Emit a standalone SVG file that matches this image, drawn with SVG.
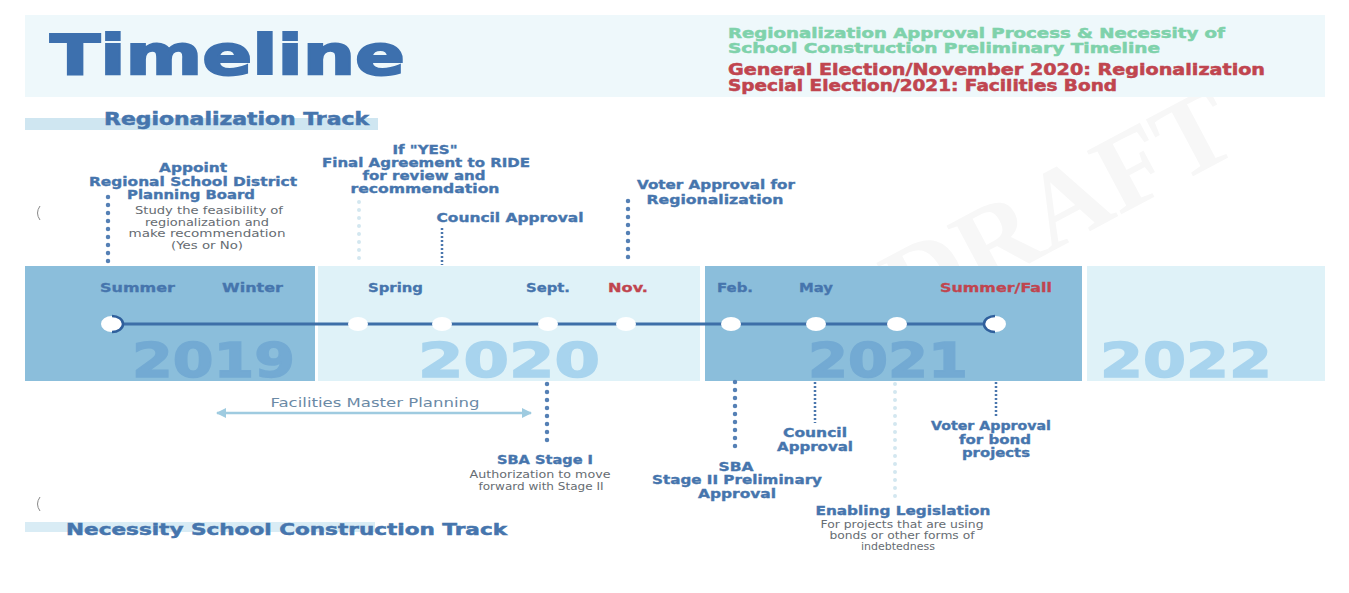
<svg xmlns="http://www.w3.org/2000/svg" width="1349" height="593" viewBox="0 0 1349 593">
<defs>
<style>
.h{font-family:"DejaVu Sans","Liberation Sans",sans-serif;font-weight:bold;fill:#4675ad;stroke:#4675ad;stroke-width:0.5}
.lbl{font-family:"DejaVu Sans","Liberation Sans",sans-serif;font-weight:bold;font-size:12.5px;fill:#4675ad;stroke:#4675ad;stroke-width:0.35;text-anchor:middle}
.sm{font-family:"DejaVu Sans","Liberation Sans",sans-serif;font-size:10px;fill:#666c72;text-anchor:middle}
.mo{font-family:"DejaVu Sans","Liberation Sans",sans-serif;font-weight:bold;font-size:12.5px;fill:#4675ad;stroke:#4675ad;stroke-width:0.3}
.red{fill:#c0454f;stroke:#c0454f}
.grn{fill:#7fd2ab;stroke:#7fd2ab}
.yr{font-family:"DejaVu Sans","Liberation Sans",sans-serif;font-weight:bold;font-size:48px;stroke-width:1.5}
.dk{fill:#8bbedb}
.lt{fill:#dff2f8}
.dot{fill:#ffffff}
.dots{stroke:#5580b5;stroke-width:4.5;stroke-linecap:round;stroke-dasharray:0 8;fill:none}
.dense{stroke:#4a76ad;stroke-width:2.5;stroke-dasharray:2 2;fill:none}
.faint{stroke:#d3e7f0;stroke-width:4;stroke-linecap:round;stroke-dasharray:0 8;fill:none}
</style>
<marker id="ah" viewBox="0 0 10 10" refX="9" refY="5" markerWidth="4" markerHeight="4" orient="auto-start-reverse">
<path d="M0,0 L10,5 L0,10 z" fill="#9fcbe0"/>
</marker>
</defs>
<rect width="1349" height="593" fill="#ffffff"/>
<text x="1050" y="245" transform="rotate(-28 1050 190)" font-family="Liberation Serif,serif" font-weight="bold" font-size="110" fill="#f7f7f7" text-anchor="middle">DRAFT</text>

<g id="header">
<rect x="25" y="15" width="1300" height="82" fill="#eef8fb"/>
<text class="h" x="50" y="74" font-size="56" textLength="355" lengthAdjust="spacingAndGlyphs" style="fill:#3d70ae;stroke:#3d70ae;stroke-width:2">Timeline</text>
<text class="h grn" x="728" y="38" font-size="13.5" textLength="497" lengthAdjust="spacingAndGlyphs">Regionalization Approval Process &amp; Necessity of</text>
<text class="h grn" x="728" y="53" font-size="13.5" textLength="432" lengthAdjust="spacingAndGlyphs">School Construction Preliminary Timeline</text>
<text class="h red" x="728" y="75" font-size="15" textLength="537" lengthAdjust="spacingAndGlyphs">General Election/November 2020: Regionalization</text>
<text class="h red" x="728" y="91" font-size="15" textLength="389" lengthAdjust="spacingAndGlyphs">Special Election/2021: Facilities Bond</text>
</g>

<g id="track-regionalization">
<rect x="25" y="118" width="353" height="12" fill="#cfe6f1"/>
<text class="h" x="104" y="125" font-size="17" textLength="265" lengthAdjust="spacingAndGlyphs">Regionalization Track</text>
</g>

<g id="timeline-band">
<rect class="dk" x="25" y="266" width="290" height="115"/>
<rect class="lt" x="318" y="266" width="382" height="115"/>
<rect class="dk" x="705" y="266" width="377" height="115"/>
<rect class="lt" x="1087" y="266" width="238" height="115"/>
<text class="yr" x="132" y="377" textLength="163" lengthAdjust="spacingAndGlyphs" fill="#73aad3" stroke="#73aad3">2019</text>
<text class="yr" x="418" y="377" textLength="182" lengthAdjust="spacingAndGlyphs" fill="#a8d4ee" stroke="#a8d4ee">2020</text>
<text class="yr" x="808" y="377" textLength="160" lengthAdjust="spacingAndGlyphs" fill="#73aad3" stroke="#73aad3">2021</text>
<text class="yr" x="1100" y="377" textLength="172" lengthAdjust="spacingAndGlyphs" fill="#a8d4ee" stroke="#a8d4ee">2022</text>
<text class="mo" x="100" y="292" textLength="75" lengthAdjust="spacingAndGlyphs">Summer</text>
<text class="mo" x="222" y="292" textLength="61" lengthAdjust="spacingAndGlyphs">Winter</text>
<text class="mo" x="368" y="292" textLength="55" lengthAdjust="spacingAndGlyphs">Spring</text>
<text class="mo" x="526" y="292" textLength="44" lengthAdjust="spacingAndGlyphs">Sept.</text>
<text class="mo red" x="608" y="292" textLength="40" lengthAdjust="spacingAndGlyphs">Nov.</text>
<text class="mo" x="717" y="292" textLength="36" lengthAdjust="spacingAndGlyphs">Feb.</text>
<text class="mo" x="799" y="292" textLength="34" lengthAdjust="spacingAndGlyphs">May</text>
<text class="mo red" x="940" y="292" textLength="112" lengthAdjust="spacingAndGlyphs">Summer/Fall</text>
<line x1="114" y1="324" x2="993" y2="324" stroke="#3d6fa8" stroke-width="3"/>
<ellipse class="dot" cx="112" cy="324" rx="11" ry="8"/>
<path d="M112,316 A11,8 0 0 1 112,332" fill="none" stroke="#2f5f9c" stroke-width="2.5"/>
<ellipse class="dot" cx="358" cy="324" rx="10" ry="7"/>
<ellipse class="dot" cx="442" cy="324" rx="10" ry="7"/>
<ellipse class="dot" cx="548" cy="324" rx="10" ry="7"/>
<ellipse class="dot" cx="626" cy="324" rx="10" ry="7"/>
<ellipse class="dot" cx="731" cy="324" rx="10" ry="7"/>
<ellipse class="dot" cx="816" cy="324" rx="10" ry="7"/>
<ellipse class="dot" cx="897" cy="324" rx="10" ry="7"/>
<ellipse class="dot" cx="995" cy="324" rx="11" ry="8"/>
<path d="M995,316 A11,8 0 0 0 995,332" fill="none" stroke="#2f5f9c" stroke-width="2.5"/>
</g>

<g id="connectors">
<line class="dots" x1="108" y1="197" x2="108" y2="262"/>
<line class="faint" x1="359" y1="202" x2="359" y2="264"/>
<line class="dense" x1="442" y1="228" x2="442" y2="265"/>
<line class="dots" x1="628" y1="201" x2="628" y2="265"/>
<line class="dots" x1="547" y1="384" x2="547" y2="448"/>
<line class="dots" x1="735" y1="382" x2="735" y2="448"/>
<line class="dense" x1="815" y1="382" x2="815" y2="423"/>
<line class="faint" x1="895" y1="384" x2="895" y2="498"/>
<line class="dense" x1="996" y1="382" x2="996" y2="418"/>
<line x1="217" y1="413" x2="531" y2="413" stroke="#9fcbe0" stroke-width="2.5" marker-start="url(#ah)" marker-end="url(#ah)"/>
</g>

<g id="n-appoint">
<text class="lbl" x="193" y="172" textLength="68" lengthAdjust="spacingAndGlyphs">Appoint</text>
<text class="lbl" x="193" y="185.5" textLength="208" lengthAdjust="spacingAndGlyphs">Regional School District</text>
<text class="lbl" x="191" y="199" textLength="128" lengthAdjust="spacingAndGlyphs">Planning Board</text>
<text class="sm" x="209" y="214" textLength="148" lengthAdjust="spacingAndGlyphs">Study the feasibility of</text>
<text class="sm" x="207" y="225.5" textLength="124" lengthAdjust="spacingAndGlyphs">regionalization and</text>
<text class="sm" x="207" y="237" textLength="157" lengthAdjust="spacingAndGlyphs">make recommendation</text>
<text class="sm" x="207" y="248.5" textLength="72" lengthAdjust="spacingAndGlyphs">(Yes or No)</text>
</g>

<g id="n-final-agreement">
<text class="lbl" x="425" y="154" textLength="65" lengthAdjust="spacingAndGlyphs">If "YES"</text>
<text class="lbl" x="426" y="167" textLength="208" lengthAdjust="spacingAndGlyphs">Final Agreement to RIDE</text>
<text class="lbl" x="424" y="180" textLength="123" lengthAdjust="spacingAndGlyphs">for review and</text>
<text class="lbl" x="425" y="193" textLength="149" lengthAdjust="spacingAndGlyphs">recommendation</text>
</g>

<g id="n-council-2020">
<text class="lbl" x="510" y="222" textLength="147" lengthAdjust="spacingAndGlyphs">Council Approval</text>
</g>

<g id="n-voter-regionalization">
<text class="lbl" x="716" y="189" textLength="158" lengthAdjust="spacingAndGlyphs">Voter Approval for</text>
<text class="lbl" x="715" y="204" textLength="137" lengthAdjust="spacingAndGlyphs">Regionalization</text>
</g>

<g id="n-facilities-master">
<text x="375" y="407" font-family="DejaVu Sans,Liberation Sans,sans-serif" font-size="12.5" fill="#6b8aa6" text-anchor="middle" textLength="209" lengthAdjust="spacingAndGlyphs">Facilities Master Planning</text>
</g>

<g id="n-sba1">
<text class="lbl" x="545" y="464" textLength="96" lengthAdjust="spacingAndGlyphs">SBA Stage I</text>
<text class="sm" x="540" y="478" textLength="141" lengthAdjust="spacingAndGlyphs">Authorization to move</text>
<text class="sm" x="541" y="490" textLength="125" lengthAdjust="spacingAndGlyphs">forward with Stage II</text>
</g>

<g id="n-sba2">
<text class="lbl" x="736" y="471" textLength="35" lengthAdjust="spacingAndGlyphs">SBA</text>
<text class="lbl" x="737" y="484" textLength="170" lengthAdjust="spacingAndGlyphs">Stage II Preliminary</text>
<text class="lbl" x="737" y="497.5" textLength="78" lengthAdjust="spacingAndGlyphs">Approval</text>
</g>

<g id="n-council-2021">
<text class="lbl" x="815" y="437" textLength="64" lengthAdjust="spacingAndGlyphs">Council</text>
<text class="lbl" x="815" y="450.5" textLength="76" lengthAdjust="spacingAndGlyphs">Approval</text>
</g>

<g id="n-enabling">
<text class="lbl" x="903" y="515" textLength="175" lengthAdjust="spacingAndGlyphs">Enabling Legislation</text>
<text class="sm" x="902" y="528" textLength="163" lengthAdjust="spacingAndGlyphs">For projects that are using</text>
<text class="sm" x="902" y="539" textLength="145" lengthAdjust="spacingAndGlyphs">bonds or other forms of</text>
<text class="sm" x="898" y="550" textLength="74" lengthAdjust="spacingAndGlyphs">indebtedness</text>
</g>

<g id="n-voter-bond">
<text class="lbl" x="991" y="430" textLength="120" lengthAdjust="spacingAndGlyphs">Voter Approval</text>
<text class="lbl" x="995" y="443.5" textLength="72" lengthAdjust="spacingAndGlyphs">for bond</text>
<text class="lbl" x="996" y="457" textLength="68" lengthAdjust="spacingAndGlyphs">projects</text>
</g>

<g id="track-necessity">
<rect x="25" y="522" width="350" height="10" fill="#d9ecf5"/>
<text class="h" x="66" y="535" font-size="16.5" textLength="441" lengthAdjust="spacingAndGlyphs">Necessity School Construction Track</text>
</g>

<path d="M40,206 Q35,213 40,220" fill="none" stroke="#888" stroke-width="1"/>
<path d="M40,497 Q35,504 40,511" fill="none" stroke="#888" stroke-width="1"/>
</svg>
